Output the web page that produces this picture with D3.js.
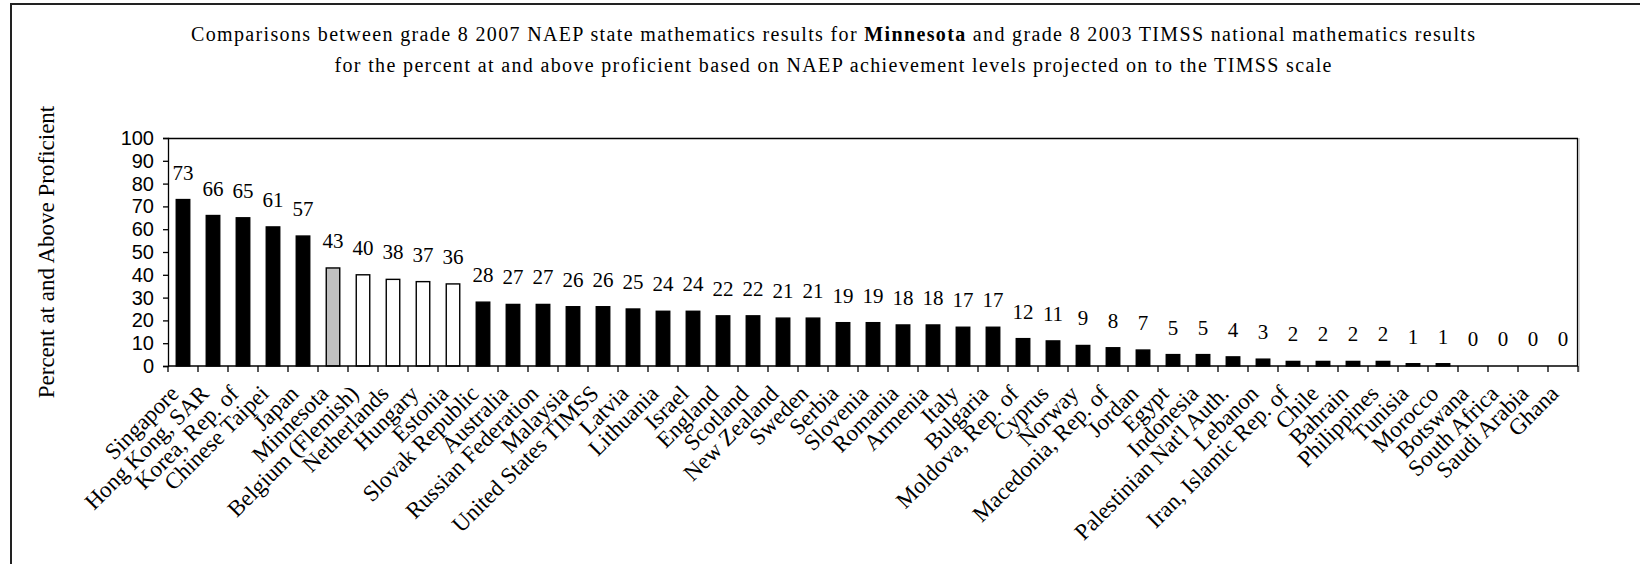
<!DOCTYPE html>
<html>
<head>
<meta charset="utf-8">
<script src="https://cdn.jsdelivr.net/npm/d3@7"></script>
<style>
  html, body { margin: 0; padding: 0; background: #fff; }
  svg { display: block; }
</style>
</head>
<body>
<svg id="chart" width="1640" height="564"></svg>
<script>
// Percent of grade 8 students at and above proficient (TIMSS scale)
const categories = [
  "Singapore", "Hong Kong, SAR", "Korea, Rep. of", "Chinese Taipei", "Japan",
  "Minnesota", "Belgium (Flemish)", "Netherlands", "Hungary", "Estonia",
  "Slovak Republic", "Australia", "Russian Federation", "Malaysia", "United States TIMSS",
  "Latvia", "Lithuania", "Israel", "England", "Scotland",
  "New Zealand", "Sweden", "Serbia", "Slovenia", "Romania",
  "Armenia", "Italy", "Bulgaria", "Moldova, Rep. of", "Cyprus",
  "Norway", "Macedonia, Rep. of", "Jordan", "Egypt", "Indonesia",
  "Palestinian Nat'l Auth.", "Lebanon", "Iran, Islamic Rep. of", "Chile", "Bahrain",
  "Philippines", "Tunisia", "Morocco", "Botswana", "South Africa",
  "Saudi Arabia", "Ghana"
];

const values = [
  73, 66, 65, 61, 57,
  43, 40, 38, 37, 36,
  28, 27, 27, 26, 26,
  25, 24, 24, 22, 22,
  21, 21, 19, 19, 18,
  18, 17, 17, 12, 11,
  9, 8, 7, 5, 5,
  4, 3, 2, 2, 2,
  2, 1, 1, 0, 0,
  0, 0
];

// "higher" / "lower": significantly different from the state; "state": the state itself;
// "similar": not significantly different from the state
const groups = [
  "higher", "higher", "higher", "higher", "higher",
  "state", "similar", "similar", "similar", "similar",
  "lower", "lower", "lower", "lower", "lower",
  "lower", "lower", "lower", "lower", "lower",
  "lower", "lower", "lower", "lower", "lower",
  "lower", "lower", "lower", "lower", "lower",
  "lower", "lower", "lower", "lower", "lower",
  "lower", "lower", "lower", "lower", "lower",
  "lower", "lower", "lower", "lower", "lower",
  "lower", "lower"
];

const yTicks = [0, 10, 20, 30, 40, 50, 60, 70, 80, 90, 100];

const titleLines = [
  ["Comparisons between grade 8 2007 NAEP state mathematics results for ", "Minnesota", " and grade 8 2003 TIMSS national mathematics results"],
  ["for the percent at and above proficient based on NAEP achievement levels projected on to the TIMSS scale"]
];
const titleWidths = [1284, 997];

const yTitle = "Percent at and Above Proficient";

const data = categories.map((c, i) => ({ name: c, value: values[i], group: groups[i] }));

const fillFor = { higher: "#000000", lower: "#000000", state: "#c0c0c0", similar: "#ffffff" };

const serif = "'Liberation Serif', 'Times New Roman', serif";

const svg = d3.select("#chart");

// outer chart frame
svg.append("rect")
  .attr("x", 11).attr("y", 4)
  .attr("width", 1700).attr("height", 700)
  .attr("fill", "#fff")
  .attr("stroke", "#222").attr("stroke-width", 2);

const plot = { left: 168, right: 1578, top: 138, bottom: 366 };

const x = d3.scaleBand()
  .domain(categories)
  .range([plot.left, plot.right])
  .paddingInner(0.55)
  .paddingOuter(0.275);

const y = d3.scaleLinear()
  .domain([0, 100])
  .range([plot.bottom, plot.top]);

// two-line title, the state name in bold
titleLines.forEach((parts, li) => {
  const line = svg.append("text")
    .attr("x", 833)
    .attr("y", 41 + li * 30.5)
    .attr("font-family", serif)
    .attr("font-size", 20)
    .attr("text-anchor", "middle")
    .attr("textLength", titleWidths[li])
    .attr("lengthAdjust", "spacing")
    .attr("fill", "#000");
  parts.forEach((p, pi) => {
    line.append("tspan")
      .attr("font-weight", parts.length === 3 && pi === 1 ? "bold" : "normal")
      .text(p);
  });
});

// plot frame (top and right edges)
svg.append("line")
  .attr("x1", plot.left).attr("x2", plot.right)
  .attr("y1", plot.top + 0.5).attr("y2", plot.top + 0.5)
  .attr("stroke", "#000").attr("stroke-width", 1.3);
svg.append("line")
  .attr("x1", plot.right - 0.5).attr("x2", plot.right - 0.5)
  .attr("y1", plot.top).attr("y2", plot.bottom)
  .attr("stroke", "#000").attr("stroke-width", 1.3);
svg.append("line")
  .attr("x1", plot.right + 1).attr("x2", plot.right + 1)
  .attr("y1", plot.top).attr("y2", plot.bottom + 6)
  .attr("stroke", "#aaa").attr("stroke-width", 1);

// bars
svg.append("g")
  .selectAll("rect")
  .data(data)
  .join("rect")
  .attr("x", d => x(d.name))
  .attr("y", d => y(d.value))
  .attr("width", x.bandwidth())
  .attr("height", d => y(0) - y(d.value))
  .attr("fill", d => fillFor[d.group])
  .attr("stroke", "#000")
  .attr("stroke-width", d => d.value > 0 ? 1.4 : 0);

// value labels
svg.append("g")
  .selectAll("text")
  .data(data)
  .join("text")
  .attr("x", d => x(d.name) + x.bandwidth() / 2)
  .attr("y", d => y(d.value) - 20)
  .attr("text-anchor", "middle")
  .attr("font-family", serif)
  .attr("font-size", 21)
  .attr("fill", "#000")
  .text(d => d.value);

// y axis
const yAxis = svg.append("g")
  .attr("transform", `translate(${plot.left},0)`)
  .call(d3.axisLeft(y).tickValues(yTicks).tickSize(5).tickPadding(9).tickFormat(d3.format("d")));
yAxis.select(".domain").attr("stroke", "#000").attr("stroke-width", 1.3);
yAxis.selectAll(".tick line").attr("stroke", "#000").attr("stroke-width", 1.3);
yAxis.selectAll(".tick text")
  .attr("font-family", "'Liberation Sans', Arial, sans-serif")
  .attr("font-size", 20)
  .attr("fill", "#000");

// x axis: ticks sit on the boundaries between categories
const boundaries = d3.range(categories.length + 1).map(i => plot.left + i * x.step());
const xAxis = svg.append("g");
xAxis.append("line")
  .attr("x1", plot.left).attr("x2", plot.right)
  .attr("y1", plot.bottom).attr("y2", plot.bottom)
  .attr("stroke", "#000").attr("stroke-width", 1.3);
xAxis.selectAll("line.tick")
  .data(boundaries)
  .join("line")
  .attr("class", "tick")
  .attr("x1", d => d).attr("x2", d => d)
  .attr("y1", plot.bottom).attr("y2", plot.bottom + 6)
  .attr("stroke", "#000").attr("stroke-width", 1.3);

// category labels, rotated
svg.append("g")
  .selectAll("text")
  .data(data)
  .join("text")
  .attr("transform", d => `translate(${x(d.name) + x.bandwidth() / 2 - 3},${plot.bottom + 29}) rotate(-45)`)
  .attr("text-anchor", "end")
  .attr("font-family", serif)
  .attr("font-size", 23)
  .attr("fill", "#000")
  .text(d => d.name);

// y axis title
svg.append("text")
  .attr("transform", `translate(54,${(plot.top + plot.bottom) / 2}) rotate(-90)`)
  .attr("text-anchor", "middle")
  .attr("font-family", serif)
  .attr("font-size", 23)
  .attr("fill", "#000")
  .text(yTitle);
</script>
</body>
</html>
